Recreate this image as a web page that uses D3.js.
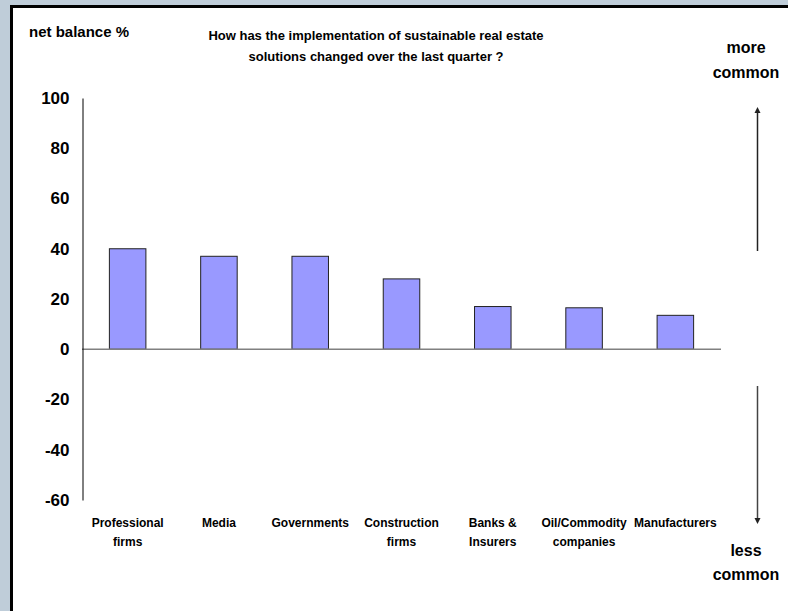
<!DOCTYPE html>
<html>
<head>
<meta charset="utf-8">
<script src="https://cdn.jsdelivr.net/npm/d3@7/dist/d3.min.js"></script>
<style>
  html, body { margin: 0; padding: 0; background: #bfcdd9; }
  svg { display: block; }
  text { font-family: Arial, "Liberation Sans", sans-serif; font-weight: bold; fill: #000; }
</style>
</head>
<body>
<svg id="chart" width="788" height="611"></svg>
<script>
// Survey categories and their net balance (%)
const categories = [
  ["Professional", "firms"],
  ["Media"],
  ["Governments"],
  ["Construction", "firms"],
  ["Banks &", "Insurers"],
  ["Oil/Commodity", "companies"],
  ["Manufacturers"]
];
const netBalance = [40, 37, 37, 28, 17, 16.5, 13.5];
const yTicks = [100, 80, 60, 40, 20, 0, -20, -40, -60];
const titleLines = [
  "How has the implementation of sustainable real estate",
  "solutions changed over the last quarter ?"
];

const svg = d3.select("#chart");

// Framed white panel
svg.append("rect")
  .attr("x", 11.5).attr("y", 6.5)
  .attr("width", 800).attr("height", 620)
  .attr("fill", "#fff").attr("stroke", "#000").attr("stroke-width", 3);

const x = d3.scaleBand()
  .domain(d3.range(categories.length))
  .range([82, 721])
  .paddingInner(0).paddingOuter(0);

const y = d3.scaleLinear().domain([-60, 100]).range([500, 98]);

// Bars
const barFrac = 0.4;
svg.append("g").selectAll("rect")
  .data(netBalance)
  .join("rect")
  .attr("x", (d, i) => x(i) + x.bandwidth() * (1 - barFrac) / 2)
  .attr("width", x.bandwidth() * barFrac)
  .attr("y", d => y(Math.max(0, d)))
  .attr("height", d => Math.abs(y(d) - y(0)))
  .attr("fill", "#9999ff")
  .attr("stroke", "#222")
  .attr("stroke-width", 1);

// Zero baseline
svg.append("line")
  .attr("x1", 82).attr("x2", 721)
  .attr("y1", y(0)).attr("y2", y(0))
  .attr("stroke", "#808080").attr("stroke-width", 1.5);

// Y axis (plain hyphen for negatives)
const yAxis = d3.axisLeft(y).tickValues(yTicks).tickSize(0).tickPadding(13)
  .tickFormat(d => String(d));
const yg = svg.append("g").attr("transform", "translate(82.5,0)").call(yAxis);
yg.select(".domain").attr("stroke", "#000").attr("stroke-width", 1);
yg.selectAll("text")
  .style("font-family", "Arial, 'Liberation Sans', sans-serif")
  .style("font-weight", "bold")
  .style("font-size", "17px")
  .attr("fill", "#000");

// Category labels
const catG = svg.append("g");
categories.forEach((lines, i) => {
  const t = catG.append("text")
    .attr("x", x(i) + x.bandwidth() / 2)
    .attr("y", 527)
    .attr("text-anchor", "middle")
    .style("font-size", "12px");
  lines.forEach((l, j) => {
    t.append("tspan")
      .attr("x", x(i) + x.bandwidth() / 2)
      .attr("dy", j === 0 ? 0 : 19)
      .text(l);
  });
});

// Axis title and chart title
svg.append("text").attr("x", 29).attr("y", 37)
  .style("font-size", "15px").text("net balance %");

titleLines.forEach((l, i) => {
  svg.append("text").attr("x", 376).attr("y", 40 + i * 21)
    .attr("text-anchor", "middle").style("font-size", "13px").text(l);
});

// Direction indicators
const defs = svg.append("defs");
defs.append("marker")
  .attr("id", "arrow")
  .attr("viewBox", "0 0 10 10")
  .attr("refX", 5).attr("refY", 5)
  .attr("markerWidth", 4).attr("markerHeight", 5)
  .attr("orient", "auto")
  .append("path").attr("d", "M0,0 L10,5 L0,10 Z").attr("fill", "#222");

svg.append("line")
  .attr("x1", 757.5).attr("x2", 757.5)
  .attr("y1", 251).attr("y2", 110)
  .attr("stroke", "#222").attr("stroke-width", 1.5)
  .attr("marker-end", "url(#arrow)");
svg.append("line")
  .attr("x1", 757.5).attr("x2", 757.5)
  .attr("y1", 386).attr("y2", 521)
  .attr("stroke", "#444").attr("stroke-width", 1.5)
  .attr("marker-end", "url(#arrow)");

[["more", 53], ["common", 78], ["less", 556], ["common", 580]].forEach(([s, yy]) => {
  svg.append("text").attr("x", 746).attr("y", yy)
    .attr("text-anchor", "middle").style("font-size", "16px").text(s);
});
</script>
</body>
</html>
